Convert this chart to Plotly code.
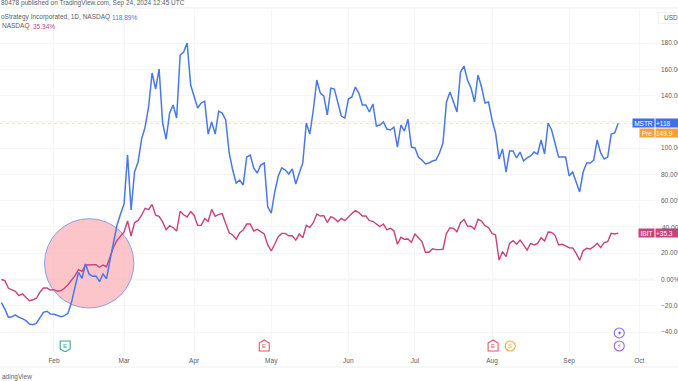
import plotly.graph_objects as go

mstr_pct = [-17.6,-22.5,-28.8,-28.3,-27,-28.8,-29.8,-31.3,-33.9,-34.4,-33.3,-28.8,-25,-24.2,-26.3,
 -26.5,-27.3,-28.3,-27.5,-25.7,-17.4,-5.9,5.5,0.9,11.8,4.2,2.4,2.7,-1.7,4.2,0.6,14.8,28.5,41.5,49.8,
 57.5,94.7,52.9,81.8,89.4,106.9,116,131.3,157.2,145,160.2,119.1,106.9,126.7,132.8,122.9,170.8,173.1,180,148,
 138.9,130.5,134.3,135.8,110.7,119.9,110.7,128.2,126.7,121.4,96.3,83.3,73.4,75.7,71.9,93.2,94.7,84.9,81,87.1,88.7,
 55.2,50.6,66.6,78.8,84.9,83.3,80.3,84.1,72.7,81,88.7,119.1,110.7,129,151.8,141.9,139.6,125.2,145.7,145,
 134.3,124.4,122.9,137.4,138.9,146.5,141.9,132.8,132.8,127.5,133.6,116.8,117.6,119.9,114.5,113.8,116,100.8,117.6,113,
 122.1,100.8,100.1,93.2,90.9,87.9,88.7,90.2,90.9,96.3,103.9,135.1,142.7,134.3,127.5,157.9,162.5,151.8,145.7,135.1,
 155.6,146.5,134.3,135.1,121.4,111.5,91.7,99.3,81.8,97.8,97.8,92.5,97,90.2,92.5,94,97,95.5,106.2,95.5,
 119.1,113.8,103.9,93.2,93.2,93.2,78.8,81.8,74.2,66.6,81.8,88.7,88.7,90.9,106.2,96.3,91.7,93.2,110.7,111.5,118.89]

ibit_pct = [0,-0.9,-6.7,-7.8,-9,-12.3,-11,-13.5,-16.1,-15.4,-14.3,-9.7,-6.5,-6.5,-8,
 -7.8,-9,-8.5,-6.7,-4,-0.9,2.9,7.5,6.2,11,11,11.3,11.3,9.3,11,9.7,17.1,24.7,29.8,33.1,
 36.1,44.5,33.1,43.2,45,48.9,54.2,53.1,57.2,48.9,48.1,43.8,37.9,40.9,39.4,36.9,51.9,49.3,47.6,51.6,
 48.9,41.2,41.2,46.3,44.3,53.4,48.1,49.6,50.1,42.6,35.6,33.9,30.6,35.6,37.7,42.2,42.2,36.9,38.2,36.4,34.6,
 26.3,21.7,27,32.6,35.1,35.1,33.3,33.3,30,34.6,31.8,41.2,39.7,43.2,49.8,48.3,48.6,43.5,47.8,46.5,
 44,46.5,44.8,47.8,50.3,52.4,50.9,48.3,48.3,44.8,44.3,42.2,40.2,42.2,37.7,38.9,37.1,26.8,32.1,30.6,
 30.8,28.3,34.6,31.8,28.8,20.7,20.7,23.4,22.7,22.7,23,35.1,39.4,38.9,36.4,43.2,45.8,40.7,40.5,38.2,
 45.8,44.5,41,39.4,35.1,33.9,14.8,21.2,17.4,27.5,29.5,26.8,30,26.3,22.4,27.5,26.3,27.5,31.8,29.3,
 36.1,35.9,33.4,26.3,26.8,25.5,24.2,24,19.9,14.6,21.9,23.7,23.2,25,27.5,24.2,28,28.8,35.1,34.6,35.34]

bar_index = list(range(-15, 162))

month_ticks = [0, 20, 40, 62, 84, 103, 125, 147, 167]
month_labels = ["Feb", "Mar", "Apr", "May", "Jun", "Jul", "Aug", "Sep", "Oct"]
pct_ticks = [180, 160, 140, 120, 100, 80, 60, 40, 20, 0, -20, -40]
pct_labels = ["180.00%", "160.00%", "140.00%", "", "100.00%", "80.00%", "60.00%", "", "20.00%", "0.00%", "−20.00%", "−40.00%"]

BLUE = "#4a78e6"
RED = "#c8437a"
ORANGE = "#f5a03c"
GREY = "#5a5d66"
FONT = "Liberation Sans"
TXT = 6.5

fig = go.Figure()
fig.add_trace(go.Scatter(x=bar_index, y=ibit_pct, mode="lines", line=dict(color=RED, width=1.4), showlegend=False))
fig.add_trace(go.Scatter(x=bar_index, y=mstr_pct, mode="lines", line=dict(color=BLUE, width=1.5), showlegend=False))

shapes = [
    dict(type="line", xref="paper", yref="y", x0=0, x1=1, y0=0, y1=0, line=dict(color="#e6e6e8", width=1.5), layer="between"),
    dict(type="line", xref="paper", yref="y", x0=0, x1=1, y0=118.89, y1=118.89, line=dict(color="#fbdcae", width=1, dash="dot"), layer="between"),
    dict(type="circle", xref="x", yref="y", x0=-2.7, x1=22.8, y0=-21.7, y1=46.3,
         fillcolor="rgba(250,178,184,0.75)", line=dict(color="#8b9fe6", width=1), layer="between"),
    dict(type="line", xref="paper", yref="paper", x0=0, x1=1.036, y0=1.003, y1=1.003, line=dict(color="#efeff1", width=1)),
    dict(type="line", xref="paper", yref="paper", x0=0, x1=1.036, y0=-0.0437, y1=-0.0437, line=dict(color="#efeff1", width=1)),
    dict(type="rect", xref="paper", yref="paper", x0=1.005, x1=1.04, y0=0.958, y1=0.99,
         fillcolor="white", line=dict(color="#f0f0f2", width=1)),
]

def badge(bar, level, color, kind):
    if kind == "up":
        path = "M-5,5 L5,5 L5,-3 L0,-6 L-5,-3 Z"
    elif kind == "down":
        path = "M-5,-5 L5,-5 L5,3 L0,6 L-5,3 Z"
    else:
        path = None
    if path:
        shapes.append(dict(type="path", xref="x", yref="y", xsizemode="pixel", ysizemode="pixel",
                           xanchor=bar, yanchor=level, path=path, fillcolor="white",
                           line=dict(color=color, width=1.1)))
    else:
        shapes.append(dict(type="circle", xref="x", yref="y", xsizemode="pixel", ysizemode="pixel",
                           xanchor=bar, yanchor=level, x0=-5, x1=5, y0=-5, y1=5, fillcolor="white",
                           line=dict(color=color, width=1.1)))

events = [(3.2, "#3aa893", "up", "E"), (60, "#e8576a", "down", "E"), (125.3, "#e8576a", "down", "E"), (130.2, "#f2a93b", "round", "S")]
annotations = []
for bar, color, kind, label_text in events:
    badge(bar, -50.6, color, kind)
    annotations.append(dict(x=bar, y=-50.6, xref="x", yref="y", text=label_text, showarrow=False,
                            font=dict(size=6, color=color, family=FONT)))
badge(161.3, -40.7, "#8c6be0", "round")
annotations.append(dict(x=161.3, y=-40.7, xref="x", yref="y", text="✦", showarrow=False, font=dict(size=6, color="#6f4be0", family="DejaVu Sans")))
badge(161.3, -50.6, "#a45fd0", "round")
annotations.append(dict(x=161.3, y=-50.6, xref="x", yref="y", text="⚡", showarrow=False, font=dict(size=6, color="#a45fd0", family="DejaVu Sans")))

def tag(text, level, bg, side, width):
    annotations.append(dict(xref="paper", yref="y", x=1, y=level, text=text, showarrow=False,
                            xanchor=side, yanchor="middle", width=width, height=8, bgcolor=bg, borderpad=0,
                            align="left" if side == "left" else "center",
                            font=dict(size=TXT, color="white", family=FONT)))

tag("MSTR", 118.89, "#3c6fe8", "right", 21)
tag("+118", 118.89, "#3c6fe8", "left", 23)
tag("Pre", 111.5, ORANGE, "right", 14)
tag("149.9", 111.5, ORANGE, "left", 23)
tag("IBIT", 35.34, RED, "right", 15)
tag("+35.3", 35.34, RED, "left", 23)

def label(text, px, py, color="#6a6d75", size=TXT, anchor="left"):
    annotations.append(dict(xref="paper", yref="paper", x=px / 655, y=(352 - py) / 343, text=text, showarrow=False,
                            xanchor=anchor, yanchor="middle",
                            font=dict(size=size, color=color, family=FONT)))

label("80478 published on TradingView.com, Sep 24, 2024 12:45 UTC", -1, 3, GREY)
label("oStrategy Incorporated, 1D, NASDAQ", -1, 17, GREY)
label("118.89%", 110, 17, BLUE)
label("NASDAQ", 0, 26, GREY)
label("35.34%", 31, 26, RED)
label("adingView", 0, 377, GREY)
label("USD", 662, 17, GREY)
label("40.00%", 660, 227, GREY)

fig.update_layout(
    width=678, height=381, autosize=False,
    margin=dict(l=0, r=23, t=9, b=29, autoexpand=False),
    paper_bgcolor="white", plot_bgcolor="white",
    font=dict(family=FONT, size=TXT, color=GREY),
    shapes=shapes, annotations=annotations, showlegend=False,
    xaxis=dict(range=[-15.4, 171.5], tickmode="array", tickvals=month_ticks, ticktext=month_labels, automargin=False,
               showgrid=True, gridcolor="#f6f6f8", gridwidth=1, zeroline=False, showline=False, ticks="", ticklabelstandoff=3),
    yaxis=dict(range=[-55.2, 205.9], side="right", tickmode="array", tickvals=pct_ticks, ticktext=pct_labels, automargin=False,
               showgrid=True, gridcolor="#f6f6f8", gridwidth=1, zeroline=False, showline=False, ticks="", ticklabelstandoff=5),
)
fig.write_html("out.html", config={"displayModeBar": False},
               post_script="document.body.style.margin='0';document.body.style.overflow='hidden';")
